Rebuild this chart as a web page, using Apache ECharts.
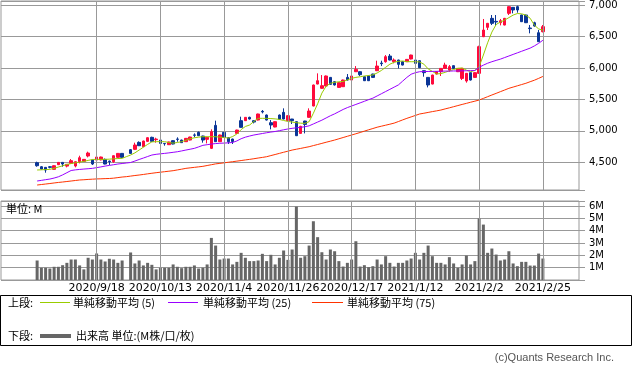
<!DOCTYPE html>
<html><head><meta charset="utf-8">
<script src="https://cdn.jsdelivr.net/npm/echarts@6/dist/echarts.min.js"></script>
<style>html,body{margin:0;padding:0;background:#fff}#c{width:633px;height:373px}</style>
</head><body><div id="c"></div>
<script>
const dates = ['2020/8/31','2020/9/1','2020/9/2','2020/9/3','2020/9/4','2020/9/7','2020/9/8','2020/9/9','2020/9/10','2020/9/11',
'2020/9/14','2020/9/15','2020/9/16','2020/9/17','2020/9/18','2020/9/23','2020/9/24','2020/9/25','2020/9/28','2020/9/29',
'2020/9/30','2020/10/1','2020/10/2','2020/10/5','2020/10/6','2020/10/7','2020/10/8','2020/10/9','2020/10/12','2020/10/13',
'2020/10/14','2020/10/15','2020/10/16','2020/10/19','2020/10/20','2020/10/21','2020/10/22','2020/10/23','2020/10/26','2020/10/27',
'2020/10/28','2020/10/29','2020/10/30','2020/11/2','2020/11/4','2020/11/5','2020/11/6','2020/11/9','2020/11/10','2020/11/11',
'2020/11/12','2020/11/13','2020/11/16','2020/11/17','2020/11/18','2020/11/19','2020/11/20','2020/11/24','2020/11/25','2020/11/26',
'2020/11/27','2020/11/30','2020/12/1','2020/12/2','2020/12/3','2020/12/4','2020/12/7','2020/12/8','2020/12/9','2020/12/10',
'2020/12/11','2020/12/14','2020/12/15','2020/12/16','2020/12/17','2020/12/18','2020/12/21','2020/12/22','2020/12/23','2020/12/24',
'2020/12/25','2020/12/28','2020/12/29','2020/12/30','2021/1/4','2021/1/5','2021/1/6','2021/1/7','2021/1/8','2021/1/12',
'2021/1/13','2021/1/14','2021/1/15','2021/1/18','2021/1/19','2021/1/20','2021/1/21','2021/1/22','2021/1/25','2021/1/26',
'2021/1/27','2021/1/28','2021/1/29','2021/2/1','2021/2/2','2021/2/3','2021/2/4','2021/2/5','2021/2/8','2021/2/9',
'2021/2/10','2021/2/12','2021/2/15','2021/2/16','2021/2/17','2021/2/18','2021/2/19','2021/2/22','2021/2/24','2021/2/25'];

const labelDates = ['2020/9/18','2020/10/13','2020/11/4','2020/11/26','2020/12/17','2021/1/12','2021/2/2','2021/2/25'];

const opens = [4494,4430,4420,4430,4388,4462,4499,4440,4483,4441,
4510,4515,4600,4536,4536,4540,4547,4520,4510,4579,
4642,null,4701,4706,4817,4748,4833,4897,4860,4854,
4801,4780,4844,4870,4854,4828,4854,4935,4976,4918,
4865,4722,5087,4828,4976,4891,4870,4960,5162,5162,
5215,5162,5172,5310,5252,5130,5061,5252,5294,5162,
5188,5146,4960,5156,5215,5395,5744,5676,5713,5850,
5781,5691,5702,5850,5808,5940,5940,5861,5872,5903,
5956,6078,6099,6189,6099,6126,6099,6099,6142,6126,
6115,5956,5850,5744,5903,5940,5993,5967,6036,5940,
5834,5792,5925,5850,5914,6497,6645,6788,6740,6719,
6682,6868,6963,6974,6841,6841,6635,6719,6560,6576];
const highs = [4510,4441,4425,4441,4452,4505,4505,4473,4552,4515,
4605,4552,4669,4541,4590,4590,4560,4526,4610,4648,
4648,null,4711,4812,4833,4844,4897,4907,4891,4860,
4801,4828,4850,4897,4860,4886,4907,4960,4990,4923,
4902,5024,5162,4940,4981,4897,4875,5018,5225,5220,
5225,5170,5273,5331,5260,5172,5150,5260,5358,5250,
5190,5150,5080,5160,5358,5735,5914,5887,5880,5855,
5790,5770,5815,5903,5877,6030,5945,5866,5877,5908,
6115,6115,6205,6221,6152,6130,6105,6142,6210,6131,
6120,5960,5855,5893,5945,5998,6083,6046,6041,5998,
5998,5920,5930,5930,6354,6778,6715,6841,6841,6778,
6795,6980,6968,6989,6846,6846,6682,6735,6603,6682];
const lows = [4430,4388,4335,4404,4383,4457,4430,4420,4478,4420,
4483,4510,4579,4457,4530,4530,4468,4457,4490,4570,
4573,null,4637,4695,4759,4743,4828,4828,4812,4764,
4764,4775,4785,4828,4807,4823,4849,4897,4918,4812,
4801,4711,4823,4823,4891,4791,4791,4955,5050,5156,
5180,5119,5165,5278,5165,5024,5056,5180,5183,5156,
5109,4918,4955,4960,5210,5390,5740,5670,5705,5735,
5720,5685,5697,5800,5803,5935,5872,5792,5792,5845,
5950,6030,6083,6120,6073,5993,6040,6094,6136,6068,
5998,5861,5691,5739,5898,5872,5988,5940,5988,5935,
5808,5766,5800,5845,5908,6490,6603,6682,6666,6677,
6677,6841,6868,6878,6730,6714,6550,6656,6412,6566];
const closes = [4446,4393,4377,4420,4446,4499,4473,4468,4526,4510,
4573,4547,4648,4473,4584,4584,4473,4510,4605,4642,
4579,null,4642,4775,4764,4838,4891,4833,4870,4801,
4795,4823,4791,4865,4812,4881,4902,4930,4923,4854,
4897,4987,4828,4934,4897,4828,4830,5013,5056,5215,
5188,5140,5268,5300,5172,5093,5146,5183,5188,5241,
5162,4923,5072,5103,5315,5729,5797,5718,5872,5739,
5729,5766,5808,5808,5872,5977,5893,5797,5797,5850,
6030,6068,6179,6126,6126,6057,6046,6136,6205,6073,
6004,5925,5729,5887,5940,5993,6046,6020,5993,5993,
5993,5914,5808,5925,6338,6603,6709,6709,6730,6751,
6788,6974,6921,6921,6735,6719,6625,6666,6417,6656];

// volume, millions
const volumes = [1.58,0.99,0.99,0.93,1.07,1.07,1.2,1.39,1.66,1.66,
1.18,0.86,1.8,1.66,2.15,1.66,1.5,1.72,1.66,1.39,
1.58,null,2.23,1.34,1.58,1.18,1.39,1.23,0.86,0.99,
0.99,0.99,1.26,1.07,0.96,1.07,1.07,1.18,0.93,0.99,
1.26,3.41,2.79,1.66,1.74,1.74,1.26,1.47,2.2,1.8,
1.53,1.53,1.58,2.12,1.53,2.04,1.26,1.8,2.39,1.63,
2.47,5.95,1.8,1.93,2.79,4.76,3.47,2.25,1.66,2.47,
2.33,1.53,1.09,1.39,1.66,3.14,1.09,1.2,1.04,1.12,
1.66,1.26,1.93,1.39,1.09,1.39,1.39,1.58,1.74,2.2,
1.66,2.2,2.79,1.93,1.39,1.39,1.26,1.85,1.34,0.99,
1.26,1.98,1.26,1.53,4.98,4.49,2.2,2.55,2.06,1.58,
1.66,2.33,1.34,1.12,1.47,1.47,1.17,1.17,2.14,1.74];

const ma5 = [4378,4381,4385,4388,4405,4425,4445,4465,4480,4492,
4503,4515,4530,4545,4547,4547,4547,4550,4555,4560,
4563,4590,4616,4650,4695,4740,4785,4825,4828,4828,
4828,4815,4805,4815,4828,4850,4875,4890,4900,4907,
4907,4907,4907,4900,4895,4885,4910,4950,5020,5070,
5093,5150,5199,5199,5199,5195,5190,5182,5165,5150,
5140,5130,5122,5119,5146,5280,5430,5600,5710,5755,
5772,5780,5785,5810,5835,5850,5860,5872,5880,5890,
5920,5960,6010,6060,6090,6105,6110,6100,6099,6099,
6095,6060,5985,5945,5905,5910,5930,5955,5975,5993,
6000,5965,5940,5960,6020,6205,6400,6570,6690,6730,
6760,6800,6840,6865,6860,6840,6790,6680,6620,6600];
const ma25 = [4203,4213,4224,4234,4250,4270,4300,4335,4370,4380,
4387,4393,4398,4404,4415,4427,4440,4451,4462,4473,
4481,4489,4497,4520,4545,4568,4592,4616,4627,4635,
4642,4650,4659,4668,4681,4695,4708,4722,4745,4770,
4780,4790,4798,4803,4806,4810,4815,4840,4875,4900,
4918,4934,4946,4958,4970,4981,4990,5003,5017,5030,
5040,5048,5056,5066,5080,5110,5140,5170,5205,5240,
5270,5305,5340,5370,5395,5420,5445,5470,5496,5520,
5555,5590,5625,5660,5695,5730,5790,5850,5900,5925,
5940,5942,5944,5945,5946,5948,5950,5950,5952,5952,
5954,5955,5957,5960,6010,6045,6075,6099,6120,6140,
6165,6190,6215,6240,6265,6290,6315,6350,6391,6440];
const ma75 = [4139,4147,4155,4163,4172,4180,4187,4195,4203,4211,
4219,4223,4228,4232,4236,4238,4241,4243,4248,4257,
4266,4272,4281,4290,4298,4307,4317,4326,4335,4343,
4351,4359,4367,4379,4391,4404,4412,4420,4428,4436,
4449,4462,4475,4483,4492,4501,4510,4519,4528,4538,
4547,4557,4568,4578,4589,4607,4624,4642,4660,4677,
4695,4708,4721,4735,4748,4766,4783,4801,4819,4836,
4854,4874,4894,4914,4934,4954,4974,4996,5017,5037,
5058,5074,5090,5106,5123,5148,5174,5199,5222,5245,
5268,5280,5293,5306,5318,5331,5349,5366,5384,5402,
5420,5437,5455,5472,5490,5516,5543,5570,5596,5623,
5649,5676,5696,5716,5736,5756,5781,5805,5834,5865];

const PAD = 8;
const cats = [];
for (let k = 0; k < PAD; k++) cats.push('L' + k);
dates.forEach(d => cats.push(d));
for (let k = 0; k < PAD; k++) cats.push('R' + k);
const blank = Array(PAD).fill('-');
const padded = arr => blank.concat(arr.map(v => v == null ? '-' : v), blank);
const ohlc = dates.map((d, i) => opens[i] == null ? '-' : [opens[i], closes[i], lows[i], highs[i]]);

const GRID_C = '#999999';
const UP = '#ff0a3c', DOWN = '#0a3596';
const C5 = '#99cc00', C25 = '#9900ff', C75 = '#ff3300', CVOL = '#666666';

const markVL = {
  silent: true, symbol: ['none', 'none'], animation: false,
  label: { show: false },
  lineStyle: { color: GRID_C, type: 'solid', width: 1 },
  data: labelDates.map(d => ({ xAxis: d }))
};

const FONT_JP = '11px "Noto Sans CJK JP"';
const chart = echarts.init(document.getElementById('c'), null, { renderer: 'canvas' });
chart.setOption({
  animation: false,
  backgroundColor: '#fff',
  grid: [
    { left: 1, top: 1, width: 578, height: 189, show: true, borderColor: GRID_C, borderWidth: 1, backgroundColor: 'transparent' },
    { left: 1, top: 201, width: 578, height: 79, show: true, borderColor: GRID_C, borderWidth: 1, backgroundColor: 'transparent' }
  ],
  xAxis: [
    { type: 'category', gridIndex: 0, data: cats, boundaryGap: true,
      axisLine: { show: false }, axisTick: { show: false }, axisLabel: { show: false }, splitLine: { show: false } },
    { type: 'category', gridIndex: 1, data: cats, boundaryGap: true,
      axisLine: { show: false }, axisTick: { show: false }, splitLine: { show: false },
      axisLabel: { show: true, interval: (idx, val) => labelDates.indexOf(val) >= 0,
        color: '#000', fontSize: 11, fontFamily: 'DejaVu Sans', margin: 3, hideOverlap: false } }
  ],
  yAxis: [
    { type: 'value', gridIndex: 0, position: 'right', min: 4060, max: 7064, minInterval: 500, maxInterval: 500,
      axisLine: { show: false },
      axisTick: { show: true, length: 6, lineStyle: { color: GRID_C } },
      axisLabel: { color: '#000', fontSize: 10, fontFamily: 'DejaVu Sans', margin: 10,
        formatter: v => (v % 500 === 0) ? v.toLocaleString('en-US') : '' },
      splitLine: { show: true, lineStyle: { color: GRID_C, width: 1 } } },
    { type: 'value', gridIndex: 1, position: 'right', min: 0, max: 6.4, interval: 1,
      axisLine: { show: false },
      axisTick: { show: true, length: 6, lineStyle: { color: GRID_C } },
      axisLabel: { color: '#000', fontSize: 10, fontFamily: 'DejaVu Sans', margin: 10,
        formatter: v => (v > 0 && Number.isInteger(v)) ? v + 'M' : '' },
      splitLine: { show: true, lineStyle: { color: GRID_C, width: 1 } } }
  ],
  series: [
    { type: 'line', xAxisIndex: 0, yAxisIndex: 0, data: padded(dates.map(() => null)), z: 1, silent: true,
      showSymbol: false, markLine: markVL },
    { type: 'line', xAxisIndex: 1, yAxisIndex: 1, data: padded(dates.map(() => null)), z: 1, silent: true,
      showSymbol: false, markLine: markVL },
    { type: 'candlestick', xAxisIndex: 0, yAxisIndex: 0, data: blank.concat(ohlc, blank), barWidth: 3, z: 3,
      itemStyle: { color: UP, color0: DOWN, borderColor: UP, borderColor0: DOWN, borderWidth: 1 } },
    { type: 'line', name: 'ma5', xAxisIndex: 0, yAxisIndex: 0, data: padded(ma5), showSymbol: false, symbol: 'none', z: 4,
      lineStyle: { color: C5, width: 1 } },
    { type: 'line', name: 'ma25', xAxisIndex: 0, yAxisIndex: 0, data: padded(ma25), showSymbol: false, symbol: 'none', z: 4,
      lineStyle: { color: C25, width: 1 } },
    { type: 'line', name: 'ma75', xAxisIndex: 0, yAxisIndex: 0, data: padded(ma75), showSymbol: false, symbol: 'none', z: 4,
      lineStyle: { color: C75, width: 1 } },
    { type: 'bar', xAxisIndex: 1, yAxisIndex: 1, data: padded(volumes), barWidth: 3, z: 3,
      itemStyle: { color: CVOL } }
  ],
  graphic: [
    { type: 'text', left: 6, top: 203, z: 10, style: { text: '単位: M', fill: '#000', font: FONT_JP } },
    { type: 'rect', shape: { x: 0.5, y: 295.5, width: 631, height: 50 }, style: { fill: 'none', stroke: '#000', lineWidth: 1 } },
    { type: 'text', x: 8, y: 303, style: { text: '上段:', fill: '#000', font: FONT_JP, textVerticalAlign: 'middle' } },
    { type: 'rect', shape: { x: 40, y: 302, width: 30, height: 1 }, style: { fill: C5, stroke: null } },
    { type: 'text', x: 73, y: 303, style: { text: '単純移動平均 (5)', fill: '#000', font: FONT_JP, textVerticalAlign: 'middle' } },
    { type: 'rect', shape: { x: 168, y: 302, width: 30, height: 1 }, style: { fill: C25, stroke: null } },
    { type: 'text', x: 203, y: 303, style: { text: '単純移動平均 (25)', fill: '#000', font: FONT_JP, textVerticalAlign: 'middle' } },
    { type: 'rect', shape: { x: 312, y: 302, width: 31, height: 1 }, style: { fill: C75, stroke: null } },
    { type: 'text', x: 347, y: 303, style: { text: '単純移動平均 (75)', fill: '#000', font: FONT_JP, textVerticalAlign: 'middle' } },
    { type: 'text', x: 8, y: 336, style: { text: '下段:', fill: '#000', font: FONT_JP, textVerticalAlign: 'middle' } },
    { type: 'rect', shape: { x: 40, y: 334, width: 31, height: 4 }, style: { fill: CVOL, stroke: null } },
    { type: 'text', x: 76, y: 336, style: { text: '出来高 単位:(M株/口/枚)', fill: '#000', font: FONT_JP, textVerticalAlign: 'middle' } },
    { type: 'text', x: 614, y: 357.5, style: { text: '(c)Quants Research Inc.', fill: '#555', font: '11px "Liberation Sans"', textAlign: 'right', textVerticalAlign: 'middle' } }
  ]
});
</script></body></html>
